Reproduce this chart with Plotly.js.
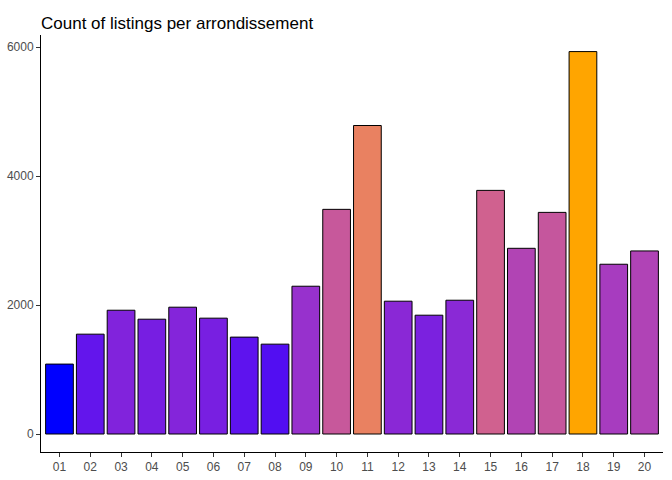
<!DOCTYPE html>
<html>
<head>
<script src="https://cdn.plot.ly/plotly-3.0.1.min.js"></script>
<style>body{margin:0}</style>
</head>
<body>
<div id="chart" style="width:672px;height:480px"></div>
<script>
var arrondissements = ['01','02','03','04','05','06','07','08','09','10','11','12','13','14','15','16','17','18','19','20'];
var listings = [1084, 1548, 1919, 1780, 1966, 1796, 1502, 1393, 2291, 3483, 4783, 2059, 1842, 2074, 3777, 2879, 3436, 5929, 2632, 2838];

// ggplot-like gradient (Lab interpolation) from blue to orange
function toLab(r, g, b) {
  function lin(c) { c /= 255; return c > 0.04045 ? Math.pow((c + 0.055) / 1.055, 2.4) : c / 12.92; }
  r = lin(r); g = lin(g); b = lin(b);
  var x = (r * 0.4124 + g * 0.3576 + b * 0.1805) / 0.95047;
  var y = r * 0.2126 + g * 0.7152 + b * 0.0722;
  var z = (r * 0.0193 + g * 0.1192 + b * 0.9505) / 1.08883;
  function f(t) { return t > 0.008856 ? Math.cbrt(t) : 7.787 * t + 16 / 116; }
  return [116 * f(y) - 16, 500 * (f(x) - f(y)), 200 * (f(y) - f(z))];
}
function fromLab(L, a, bb) {
  var fy = (L + 16) / 116, fx = fy + a / 500, fz = fy - bb / 200;
  function fi(t) { return t > 0.206893 ? t * t * t : (t - 16 / 116) / 7.787; }
  var x = fi(fx) * 0.95047, y = fi(fy), z = fi(fz) * 1.08883;
  var r = x * 3.2406 + y * -1.5372 + z * -0.4986;
  var g = x * -0.9689 + y * 1.8758 + z * 0.0415;
  var b = x * 0.0557 + y * -0.2040 + z * 1.0570;
  function gam(c) { c = c > 0.0031308 ? 1.055 * Math.pow(c, 1 / 2.4) - 0.055 : 12.92 * c; return Math.round(Math.max(0, Math.min(1, c)) * 255); }
  return 'rgb(' + gam(r) + ',' + gam(g) + ',' + gam(b) + ')';
}
var lo = toLab(0, 0, 255), hi = toLab(255, 165, 0);
var vmin = Math.min.apply(null, listings), vmax = Math.max.apply(null, listings);
var colors = listings.map(function (v) {
  var t = (v - vmin) / (vmax - vmin);
  return fromLab(lo[0] + t * (hi[0] - lo[0]), lo[1] + t * (hi[1] - lo[1]), lo[2] + t * (hi[2] - lo[2]));
});

var trace = {
  x: arrondissements,
  y: listings,
  type: 'bar',
  marker: { color: colors, line: { color: 'black', width: 1 } },
  hoverinfo: 'x+y'
};

var layout = {
  width: 672, height: 480,
  margin: { l: 41, r: 9, t: 35, b: 28 },
  paper_bgcolor: 'white', plot_bgcolor: 'white',
  font: { family: 'Liberation Sans, Arial, sans-serif', color: '#4D4D4D', size: 12 },
  title: { text: 'Count of listings per arrondissement', x: 0.061, xanchor: 'left', y: 0.965, font: { size: 17, color: 'black' } },
  bargap: 0.1,
  showlegend: false,
  xaxis: { type: 'category', range: [-0.6, 19.6], showline: true, linecolor: 'black', linewidth: 1,
           ticks: 'outside', ticklen: 4, tickcolor: '#333', showgrid: false, zeroline: false },
  yaxis: { range: [-279, 6186], tickvals: [0, 2000, 4000, 6000], showline: true, linecolor: 'black', linewidth: 1,
           ticks: 'outside', ticklen: 4, tickcolor: '#333', showgrid: false, zeroline: false }
};

Plotly.newPlot('chart', [trace], layout, { displayModeBar: false });
</script>
</body>
</html>
